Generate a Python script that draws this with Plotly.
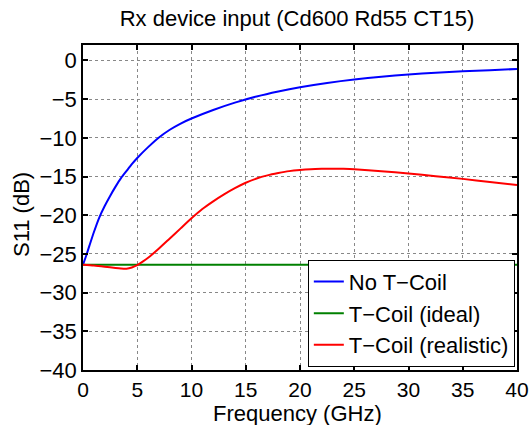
import plotly.graph_objects as go

# ---- data ----
freq_blue = [0, 0.3, 0.6, 1, 1.5, 2, 2.5, 3, 3.5, 4, 4.5, 5, 6, 7, 8, 9, 10, 12, 14, 16, 18, 20,
             22.5, 25, 27.5, 30, 32.5, 35, 37.5, 40]
s11_no_tcoil = [-26.4, -25.2, -23.9, -22.2, -20.3, -18.8, -17.5, -16.3, -15.2, -14.3, -13.4, -12.6,
                -11.2, -9.95, -8.95, -8.15, -7.5, -6.4, -5.45, -4.65, -4.0, -3.45,
                -2.9, -2.45, -2.1, -1.8, -1.6, -1.4, -1.25, -1.1]

freq_green = [0, 10, 20, 30, 40]
s11_ideal = [-26.4, -26.4, -26.4, -26.4, -26.4]

freq_red = [0, 1, 2, 3, 3.5, 4, 4.5, 5, 5.5, 6, 7, 8, 9, 10, 11, 12, 13, 14, 15, 16, 17, 18, 19,
            20, 21, 22, 23, 24, 25, 27.5, 30, 32.5, 35, 37.5, 40]
s11_realistic = [-26.4, -26.5, -26.65, -26.82, -26.88, -26.9, -26.75, -26.45, -26.0, -25.5, -24.3,
                 -23.0, -21.7, -20.4, -19.2, -18.2, -17.3, -16.5, -15.8, -15.25, -14.85, -14.55,
                 -14.3, -14.15, -14.05, -14.0, -13.98, -14.0, -14.05, -14.3, -14.6, -14.95,
                 -15.3, -15.7, -16.1]

x_ticks = [0, 5, 10, 15, 20, 25, 30, 35, 40]
y_ticks = [0, -5, -10, -15, -20, -25, -30, -35, -40]

FONT = "Liberation Sans, Arial, sans-serif"
FS = 22

fig = go.Figure()
fig.add_trace(go.Scatter(x=freq_blue, y=s11_no_tcoil, mode="lines", name="No T\u2212Coil",
                         line=dict(color="#0000ff", width=2, shape="spline", smoothing=0.6)))
fig.add_trace(go.Scatter(x=freq_green, y=s11_ideal, mode="lines", name="T\u2212Coil (ideal)",
                         line=dict(color="#008000", width=2)))
fig.add_trace(go.Scatter(x=freq_red, y=s11_realistic, mode="lines", name="T\u2212Coil (realistic)",
                         line=dict(color="#ff0000", width=2, shape="spline", smoothing=0.6)))

axis_common = dict(
    showline=True, linecolor="black", linewidth=1.5, mirror="ticks",
    ticks="inside", ticklen=5, tickcolor="black", tickwidth=1.5,
    showgrid=True, gridcolor="#888888", griddash="dot", gridwidth=1,
    zeroline=False, automargin=False, ticklabeloverflow="allow",
)

fig.update_xaxes(range=[0, 40], tickvals=x_ticks, ticktext=[str(v) for v in x_ticks],
                 tickfont=dict(size=21, color="black", family=FONT), **axis_common)
fig.update_yaxes(range=[-40, 2], tickvals=y_ticks,
                 tickfont=dict(size=FS, color="black", family=FONT), **axis_common)

fig.update_layout(
    width=529, height=425,
    margin=dict(l=83, r=12, t=45, b=55, autoexpand=False),
    paper_bgcolor="white", plot_bgcolor="white",
    font=dict(family=FONT, size=FS, color="black"),
    title=dict(text="Rx device input (Cd600 Rd55 CT15)", x=297 / 529, xanchor="center",
               y=1 - 18 / 425, yanchor="middle", font=dict(size=FS, color="black", family=FONT)),
    legend=dict(x=0.995, xanchor="right", y=0.01, yanchor="bottom",
                bgcolor="white", bordercolor="black", borderwidth=1,
                font=dict(size=FS, color="black", family=FONT),
                itemwidth=30, tracegroupgap=0),
    showlegend=True,
    annotations=[
        dict(text="Frequency (GHz)", xref="paper", yref="paper",
             x=(297 - 83) / 434, y=-(413 - 370) / 325, xanchor="center", yanchor="middle",
             showarrow=False, font=dict(size=FS, color="black", family=FONT)),
        dict(text="S11 (dB)", xref="paper", yref="paper", textangle=-90,
             x=-(83 - 22) / 434, y=(370 - 215) / 325, xanchor="center", yanchor="middle",
             showarrow=False, font=dict(size=FS, color="black", family=FONT)),
    ],
)

fig.write_html("out.html")
